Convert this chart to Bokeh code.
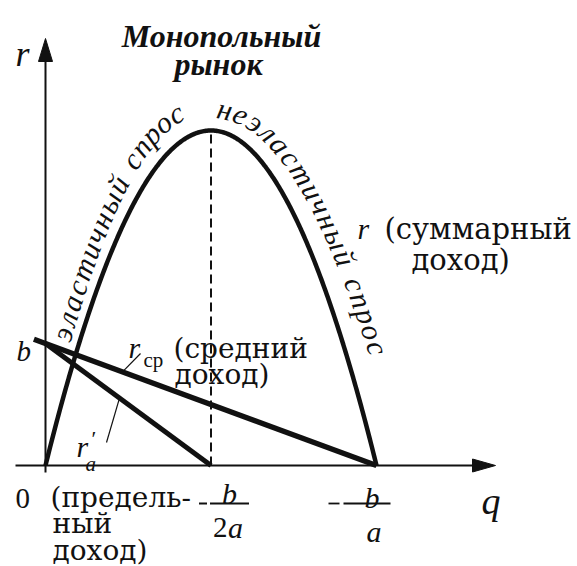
import numpy as np
from bokeh.plotting import figure
from bokeh.models import Range1d, Label
from bokeh.core.properties import value
from bokeh.embed import file_html
from bokeh.resources import INLINE

# Monopoly revenue model: total revenue r = b*q + a*q^2 with a < 0
a_coef = -1.0
b_coef = 2.0

q_peak = -b_coef / (2 * a_coef)      # -b/2a : maximum of total revenue
q_zero = -b_coef / a_coef            # -b/a  : total revenue back to zero
r_peak = b_coef * q_peak + a_coef * q_peak ** 2

# average revenue r_cp = b + a*q and marginal revenue r' = b + 2a*q (per-unit scale)
avg_q = [-0.07, q_zero]
marg_q = [0.0, q_peak]
avg_r = [b_coef + a_coef * q for q in avg_q]
marg_r = [b_coef + 2 * a_coef * q for q in marg_q]

left_phrase = "эластичный спрос"
right_phrase = "неэластичный спрос"

# ---- canvas geometry (pixels) ----
W, H = 577, 566
KX = 165.5        # px per unit of q
KY = 335.0        # px per unit of total revenue
KU = 61.0         # px per unit of per-unit revenue
OX, OY = 45.0, 101.0   # origin: px from left, px from bottom

p = figure(width=W, height=H,
           x_range=Range1d(-OX / KX, (W - OX) / KX),
           y_range=Range1d(-OY / KY, (H - OY) / KY),
           x_axis_location=None, y_axis_location=None,
           toolbar_location=None, output_backend="svg",
           min_border=0, outline_line_color=None,
           background_fill_color="white", border_fill_color="white")
p.extra_y_ranges = {"unit": Range1d(-OY / KU, (H - OY) / KU)}
p.grid.grid_line_color = None

INK = "#111111"
SERIF = "Liberation Serif"
WIDE = "DejaVu Serif"

# ---- axes with arrow heads ----
x_tip = 450 / KX
p.line([-30 / KX, x_tip - 18 / KX], [0, 0], line_width=2, color=INK)
p.patch([x_tip, x_tip - 23 / KX, x_tip - 23 / KX], [0, 6.5 / KY, -6.5 / KY], color=INK)
y_tip = 427 / KY
p.line([0, 0], [-7 / KY, y_tip - 18 / KY], line_width=2, color=INK)
p.patch([0, -7 / KX, 7 / KX], [y_tip, y_tip - 23 / KY, y_tip - 23 / KY], color=INK)

# ---- total revenue parabola ----
qq = np.linspace(0, q_zero, 300)
rr = b_coef * qq + a_coef * qq ** 2
p.line(qq, rr, line_width=4.5, color=INK)

# dashed drop line at the maximum
p.line([q_peak, q_peak], [0, r_peak], line_width=2, color=INK, line_dash="9 5")

# ---- average and marginal revenue ----
p.line(avg_q, avg_r, y_range_name="unit", line_width=5.5, color=INK)
p.line(marg_q, marg_r, y_range_name="unit", line_width=5.0, color=INK)


def px_to_q(x):
    return (x - OX) / KX


def px_to_unit(y_top):
    return (H - y_top - OY) / KU


# leader lines from labels to the lines
q_l = px_to_q(122)
p.line([q_l, px_to_q(140)], [b_coef + a_coef * q_l, px_to_unit(353)],
       y_range_name="unit", line_width=1.2, color=INK)
q_m = px_to_q(119)
p.line([q_m, px_to_q(106)], [b_coef + 2 * a_coef * q_m, px_to_unit(442)],
       y_range_name="unit", line_width=1.2, color=INK)


# ---- text bent along the parabola ----
def char_width(ch):
    if ch == " ":
        return 0.7
    if ch in "ымшщюжт":
        return 1.4
    return 1.0


def along_curve(text, q_first, q_last, d_first, d_last, size):
    qs = np.linspace(0.0, q_zero, 3000)
    cx = OX + KX * qs
    cy = OY + KY * (b_coef * qs + a_coef * qs ** 2)
    tx = np.gradient(cx)
    ty = np.gradient(cy)
    n = np.hypot(tx, ty)
    tx, ty = tx / n, ty / n
    t = np.clip((qs - q_first) / (q_last - q_first), 0, 1)
    d = d_first + (d_last - d_first) * t
    ox = cx - ty * d
    oy = cy + tx * d
    s = np.concatenate([[0], np.cumsum(np.hypot(np.diff(ox), np.diff(oy)))])
    s0 = np.interp(q_first, qs, s)
    s1 = np.interp(q_last, qs, s)
    w = np.array([char_width(c) for c in text])
    centers = np.cumsum(w) - w / 2
    centers = (centers - centers[0]) / (centers[-1] - centers[0])
    starget = s0 + centers * (s1 - s0)
    xs = np.interp(starget, s, ox)
    ys = np.interp(starget, s, oy)
    ang = np.arctan2(np.interp(starget, s, ty), np.interp(starget, s, tx))
    keep = [i for i, c in enumerate(text) if c != " "]
    p.text(x=[(xs[i] - OX) / KX for i in keep],
           y=[(ys[i] - OY) / KY for i in keep],
           text=[text[i] for i in keep],
           angle=[float(ang[i]) for i in keep],
           text_align="center", text_baseline="middle",
           text_font=value(SERIF), text_font_style="italic",
           text_font_size=size, text_color=INK)


along_curve(left_phrase, 0.21, 0.864, 19, 27, "30px")
along_curve(right_phrase, 1.055, 1.822, 23, 32, "30px")


# ---- labels ----
def lab(x, y_top, text, font=WIDE, size="28px", style="normal", align="left"):
    p.add_layout(Label(x=x, y=H - y_top, x_units="screen", y_units="screen",
                       text=text, text_font=font, text_font_size=size,
                       text_font_style=style, text_color=INK,
                       text_align=align, text_baseline="alphabetic"))


# title
lab(221, 35, "Монопольный", font=SERIF, size="32px", style="bold italic", align="center")
lab(218, 63, "рынок", font=SERIF, size="32px", style="bold italic", align="center")

# axis names
lab(15, 53, "r", font=SERIF, size="36px", style="italic")
lab(481, 500, "q", font=SERIF, size="38px", style="italic")
lab(15, 498, "0", font=SERIF, size="29px")
lab(16, 350, "b", font=SERIF, size="29px", style="italic")

# total revenue
lab(357, 228, "r", font=SERIF, size="30px", style="italic")
lab(384, 228, "(суммарный", size="29px")
lab(411, 259, "доход)", size="29px")

# average revenue
lab(128, 347, "r", font=SERIF, size="30px", style="italic")
lab(143, 359, "ср", font=SERIF, size="21px")
lab(173, 348, "(средний", size="28px")
lab(174, 374, "доход)", size="28px")

# marginal revenue
lab(76, 446, "r", font=SERIF, size="30px", style="italic")
lab(91, 438, "′", font=SERIF, size="22px")
lab(85, 463, "a", font=SERIF, size="21px", style="italic")
lab(50, 497, "(предель-", size="28px")
lab(52, 523, "ный", size="28px")
lab(52, 550, "доход)", size="28px")


# fractions under the q axis, anchored at their q values
def frac_label(q, dx, y_top, text, size="30px", style="italic"):
    p.add_layout(Label(x=q, y=0, x_offset=dx, y_offset=-(y_top - (H - OY)),
                       text=text, text_font=SERIF, text_font_size=size,
                       text_font_style=style, text_color=INK,
                       text_align="left", text_baseline="alphabetic"))


def frac_bar(q, dx0, dx1):
    y_bar = -(503 - (H - OY)) / KY
    p.line([q + dx0 / KX, q + dx1 / KX], [y_bar, y_bar], line_width=1.8, color=INK)


# -b/2a
frac_bar(q_peak, -12, -4)
frac_bar(q_peak, -1, 38)
frac_label(q_peak, 11, 493, "b")
frac_label(q_peak, 2, 527, "2", size="29px", style="normal")
frac_label(q_peak, 17, 527, "a")

# -b/a
frac_bar(q_zero, -48, -37)
frac_bar(q_zero, -33, 14)
frac_label(q_zero, -12, 497, "b")
frac_label(q_zero, -10, 531, "a")

open("out.html", "w").write(file_html(p, INLINE))
